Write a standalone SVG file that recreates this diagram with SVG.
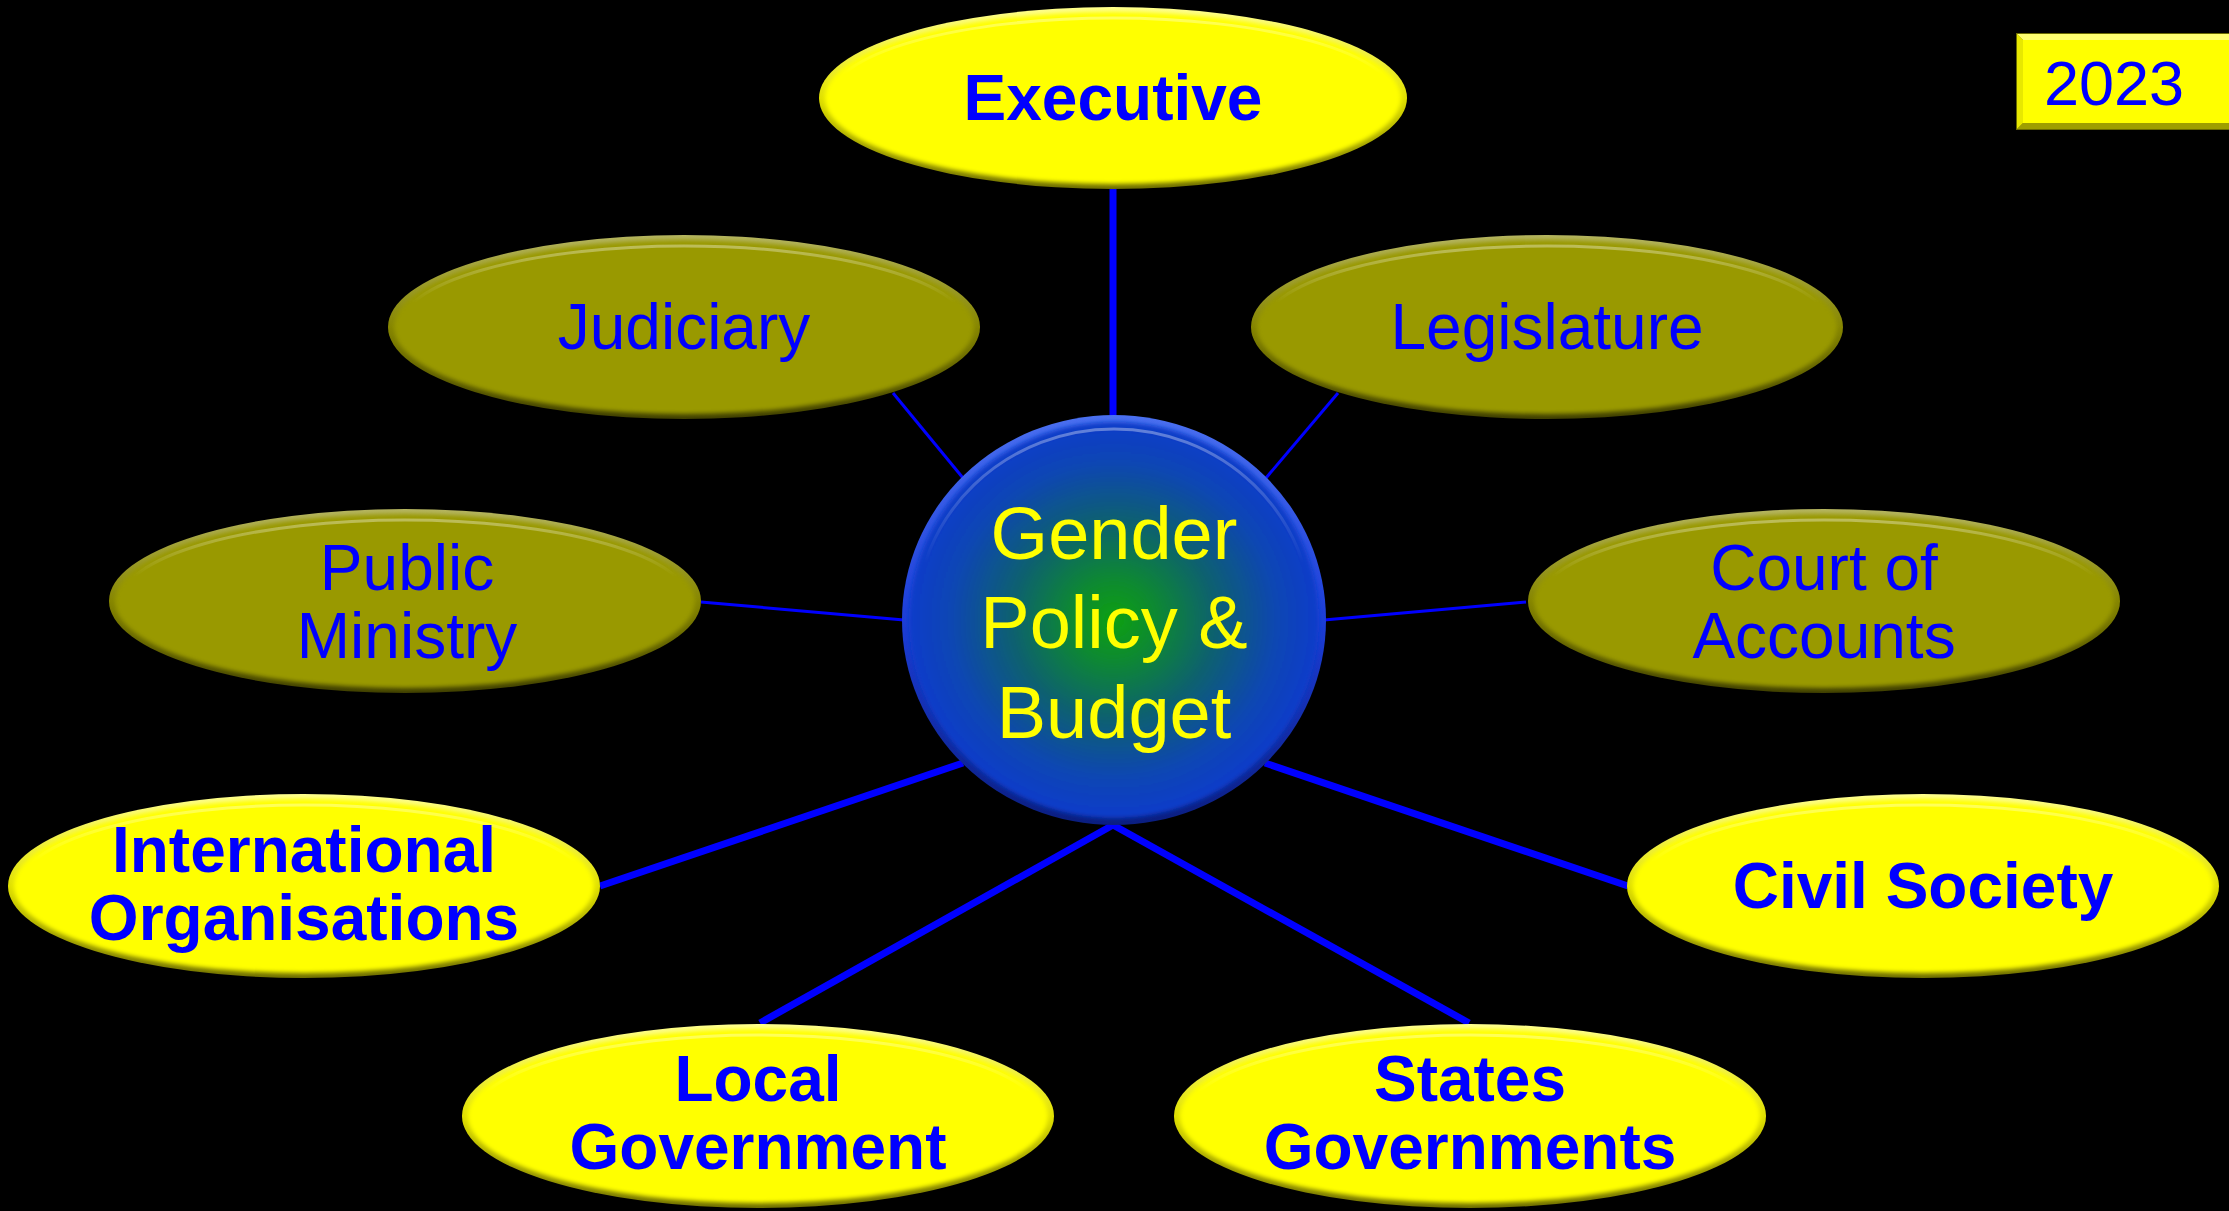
<svg xmlns="http://www.w3.org/2000/svg" width="2229" height="1211" viewBox="0 0 2229 1211">
<style>
  .lbl{font-family:"Liberation Sans",Arial,sans-serif;fill:#0000FF;text-anchor:middle;font-size:64px}
  .b{font-weight:bold}
  .ctr{font-family:"Liberation Sans",Arial,sans-serif;fill:#FFFF00;text-anchor:middle;font-size:74px}
  .thick{stroke:#0000FF;stroke-width:7;fill:none}
  .thin{stroke:#0000FF;stroke-width:3;fill:none}
  .rimY{fill:url(#gRimY)}
  .faceY{fill:#FFFF00;filter:url(#soft)}
  .rimO{fill:url(#gRimO)}
  .faceO{fill:#999900;filter:url(#soft)}
  .hl{fill:none;stroke:url(#gHl);stroke-width:3}
</style>
<defs>
  <linearGradient id="gRimY" x1="0" y1="0" x2="0" y2="1">
    <stop offset="0" stop-color="#FFFF90"/>
    <stop offset="0.5" stop-color="#E0E000"/>
    <stop offset="1" stop-color="#6E6E00"/>
  </linearGradient>
  <linearGradient id="gRimO" x1="0" y1="0" x2="0" y2="1">
    <stop offset="0" stop-color="#B5B560"/>
    <stop offset="0.5" stop-color="#858500"/>
    <stop offset="1" stop-color="#3F3F00"/>
  </linearGradient>
  <linearGradient id="gHl" x1="0" y1="0" x2="0" y2="1">
    <stop offset="0" stop-color="#FFFFFF" stop-opacity="0.35"/>
    <stop offset="0.35" stop-color="#FFFFFF" stop-opacity="0"/>
    <stop offset="1" stop-color="#FFFFFF" stop-opacity="0"/>
  </linearGradient>
  <radialGradient id="gCtr" cx="0.5" cy="0.5" r="0.5">
    <stop offset="0" stop-color="#0CA012"/>
    <stop offset="0.2" stop-color="#0A8A30"/>
    <stop offset="0.5" stop-color="#0A6070"/>
    <stop offset="0.8" stop-color="#0A46B4"/>
    <stop offset="1" stop-color="#0A3CCA"/>
  </radialGradient>
  <linearGradient id="gCtrRim" x1="0" y1="0" x2="0" y2="1">
    <stop offset="0" stop-color="#4A70F0"/>
    <stop offset="0.5" stop-color="#1C3ED8"/>
    <stop offset="1" stop-color="#0A1E80"/>
  </linearGradient>
  <filter id="soft" x="-5%" y="-5%" width="110%" height="110%">
    <feGaussianBlur stdDeviation="2"/>
  </filter>
</defs>
<rect x="0" y="0" width="2229" height="1211" fill="#000000"/>

<g id="connectors">
  <line class="thick" x1="1113" y1="189" x2="1113" y2="420"/>
  <line class="thin" x1="893" y1="393" x2="963" y2="478"/>
  <line class="thin" x1="1338" y1="393" x2="1266" y2="478"/>
  <line class="thin" x1="701" y1="602" x2="904" y2="620"/>
  <line class="thin" x1="1526" y1="602" x2="1324" y2="620"/>
  <line class="thick" x1="600" y1="886" x2="963" y2="763"/>
  <line class="thick" x1="1628" y1="886" x2="1265" y2="763"/>
  <line class="thick" x1="1113" y1="825" x2="760" y2="1023"/>
  <line class="thick" x1="1113" y1="825" x2="1469" y2="1023"/>
</g>

<g id="executive">
  <ellipse class="rimY" cx="1113" cy="98" rx="294" ry="91"/>
  <ellipse class="faceY" cx="1113" cy="98" rx="288" ry="86"/>
  <ellipse class="hl" cx="1113" cy="98" rx="282" ry="80"/>
  <text class="lbl b" x="1113" y="120">Executive</text>
</g>

<g id="judiciary">
  <ellipse class="rimO" cx="684" cy="327" rx="296" ry="92"/>
  <ellipse class="faceO" cx="684" cy="327" rx="290" ry="87"/>
  <ellipse class="hl" cx="684" cy="327" rx="284" ry="81"/>
  <text class="lbl" x="684" y="349">Judiciary</text>
</g>

<g id="legislature">
  <ellipse class="rimO" cx="1547" cy="327" rx="296" ry="92"/>
  <ellipse class="faceO" cx="1547" cy="327" rx="290" ry="87"/>
  <ellipse class="hl" cx="1547" cy="327" rx="284" ry="81"/>
  <text class="lbl" x="1547" y="349">Legislature</text>
</g>

<g id="public-ministry">
  <ellipse class="rimO" cx="405" cy="601" rx="296" ry="92"/>
  <ellipse class="faceO" cx="405" cy="601" rx="290" ry="87"/>
  <ellipse class="hl" cx="405" cy="601" rx="284" ry="81"/>
  <text class="lbl" x="407" y="590">Public</text>
  <text class="lbl" x="407" y="658">Ministry</text>
</g>

<g id="court-of-accounts">
  <ellipse class="rimO" cx="1824" cy="601" rx="296" ry="92"/>
  <ellipse class="faceO" cx="1824" cy="601" rx="290" ry="87"/>
  <ellipse class="hl" cx="1824" cy="601" rx="284" ry="81"/>
  <text class="lbl" x="1824" y="590">Court of</text>
  <text class="lbl" x="1824" y="658">Accounts</text>
</g>

<g id="international-organisations">
  <ellipse class="rimY" cx="304" cy="886" rx="296" ry="92"/>
  <ellipse class="faceY" cx="304" cy="886" rx="290" ry="87"/>
  <ellipse class="hl" cx="304" cy="886" rx="284" ry="81"/>
  <text class="lbl b" x="304" y="872">International</text>
  <text class="lbl b" x="304" y="940">Organisations</text>
</g>

<g id="civil-society">
  <ellipse class="rimY" cx="1923" cy="886" rx="296" ry="92"/>
  <ellipse class="faceY" cx="1923" cy="886" rx="290" ry="87"/>
  <ellipse class="hl" cx="1923" cy="886" rx="284" ry="81"/>
  <text class="lbl b" x="1923" y="908">Civil Society</text>
</g>

<g id="local-government">
  <ellipse class="rimY" cx="758" cy="1116" rx="296" ry="92"/>
  <ellipse class="faceY" cx="758" cy="1116" rx="290" ry="87"/>
  <ellipse class="hl" cx="758" cy="1116" rx="284" ry="81"/>
  <text class="lbl b" x="758" y="1101">Local</text>
  <text class="lbl b" x="758" y="1169">Government</text>
</g>

<g id="states-governments">
  <ellipse class="rimY" cx="1470" cy="1116" rx="296" ry="92"/>
  <ellipse class="faceY" cx="1470" cy="1116" rx="290" ry="87"/>
  <ellipse class="hl" cx="1470" cy="1116" rx="284" ry="81"/>
  <text class="lbl b" x="1470" y="1101">States</text>
  <text class="lbl b" x="1470" y="1169">Governments</text>
</g>

<g id="gender-policy-budget">
  <ellipse cx="1114" cy="620" rx="212" ry="205" fill="url(#gCtrRim)"/>
  <ellipse cx="1114" cy="620" rx="205" ry="198" fill="url(#gCtr)" filter="url(#soft)"/>
  <ellipse class="hl" cx="1114" cy="620" rx="198" ry="191"/>
  <text class="ctr" x="1114" y="559">Gender</text>
  <text class="ctr" x="1114" y="648">Policy &amp;</text>
  <text class="ctr" x="1114" y="738">Budget</text>
</g>

<g id="year-2023">
  <rect x="2016" y="33" width="220" height="97" fill="#8C8C00"/>
  <polygon points="2016,33 2236,33 2236,40 2023,40" fill="#FFFF70"/>
  <polygon points="2016,33 2023,40 2023,123 2016,130" fill="#E8E800"/>
  <polygon points="2016,130 2023,123 2236,123 2236,130" fill="#9E9E00"/>
  <rect x="2023" y="40" width="213" height="83" fill="#FFFF00"/>
  <rect x="2016.5" y="33.5" width="220" height="96" fill="none" stroke="#6A6A00" stroke-width="1"/>
  <text class="lbl" x="2114" y="105" style="font-size:63px">2023</text>
</g>
</svg>
